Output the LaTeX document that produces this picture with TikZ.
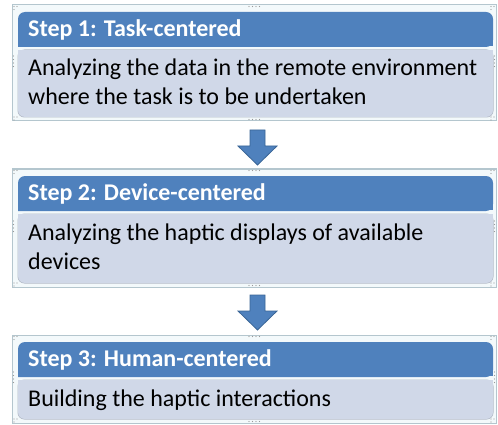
\documentclass[tikz,border=0pt]{standalone}
\usepackage{fontspec}
\setmainfont{Carlito}
\definecolor{hdr}{HTML}{4F81BD}
\definecolor{bdy}{HTML}{D0D8E8}
\definecolor{frm}{HTML}{B4C6CE}
\definecolor{frmfill}{HTML}{F3F9FB}
\definecolor{arrline}{HTML}{3A6596}
\tikzset{
  frame/.style={draw=frm, line width=1pt, fill=frmfill},
  hdrtext/.style={anchor=base west, inner sep=0pt, text=white, font=\fontsize{24}{28}\selectfont\bfseries},
  bodytext/.style={anchor=north west, inner sep=0pt, align=left, text=black, font=\fontsize{24}{28.8}\selectfont},
  blockarrow/.style={fill=hdr, draw=arrline, line width=0.8pt, line join=miter},
  handle/.style={fill=gray!80}
}
\newcommand\myhdots[2]{\foreach \k in {0,1,2,3} {\fill[handle] ({#1+\k*3.5},{#2}) circle (0.7);}}
\newcommand\myvdots[2]{\foreach \k in {0,1,2,3} {\fill[handle] ({#1},{#2+\k*3.5}) circle (0.7);}}
\newcommand\mycdots[2]{\fill[handle] ({#1},{#2}) circle (0.7); \fill[handle] ({#1+3},{#2}) circle (0.7); \fill[handle] ({#1},{#2+3}) circle (0.7);}
% #1 frame top, #2 header top, #3 header bottom, #4 body bottom
\newcommand\myblock[4]{%
  \draw[frame] (12,#1) rectangle (496,{#4+4});
  \fill[hdr,rounded corners=7pt] (18,{#3+1}) -- (18,#2) -- (493,#2) -- (493,{#3+1}) [sharp corners] -- cycle;
  \fill[hdr] (18,{#3-8}) rectangle (493,#3);
  \fill[bdy!85!black,rounded corners=7pt] (17.5,{#3+3.5}) -- (17.5,{#4+0.5}) -- (493.5,{#4+0.5}) -- (493.5,{#3+3.5}) -- cycle;
  \fill[bdy,rounded corners=7pt] (18,{#3+4}) -- (18,#4) -- (493,#4) -- (493,{#3+4}) -- cycle;
  \fill[bdy] (18,{#3+4}) rectangle (493,{#3+12});
  \myhdots{249}{#1+1.5}
  \myhdots{249}{#4+2.5}
  \myvdots{13.5}{(#1+#4)/2-5}
  \myvdots{494.5}{(#1+#4)/2-5}
  \mycdots{14}{#1+1.5}
  \mycdots{14}{#4}
  \mycdots{491}{#1+1.5}
  \mycdots{491}{#4}
}
\begin{document}
\begin{tikzpicture}[x=1pt,y=-1pt]
\useasboundingbox (0,0) rectangle (498,425);
\fill[white] (0,0) rectangle (498,425);
\myblock{5}{12}{46}{117}
\myblock{169}{176}{210}{283}
\myblock{335}{342}{376}{419}
\node[hdrtext] (h1) at (28,36.5) {Step 1: Task-centered};
\node[bodytext] (b1) at (28,59) {Analyzing the data in the remote environment\\where the task is to be undertaken};
\node[hdrtext] (h2) at (28,200.5) {Step 2: Device-centered};
\node[bodytext] (b2) at (28,223.5) {Analyzing the haptic displays of available\\devices};
\node[hdrtext] (h3) at (28,366.5) {Step 3: Human-centered};
\node[bodytext] (b3) at (28,390) {Building the haptic interactions};
\foreach \t in {130,295} {
  \draw[blockarrow] (250,\t) -- (265,\t) -- (265,{\t+16}) -- (277,{\t+16}) -- (257.5,{\t+35}) -- (238,{\t+16}) -- (250,{\t+16}) -- cycle;
}
\end{tikzpicture}
\end{document}
